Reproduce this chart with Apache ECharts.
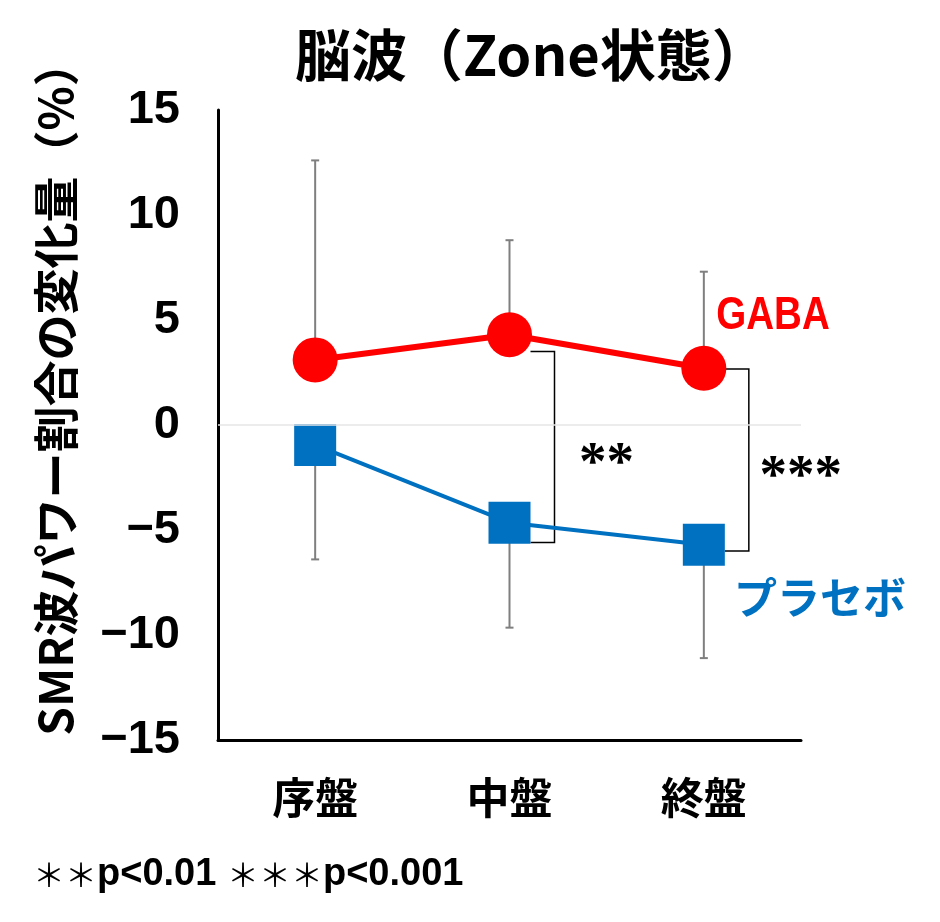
<!DOCTYPE html>
<html>
<head>
<meta charset="utf-8">
<script src="https://cdn.jsdelivr.net/npm/echarts@6/dist/echarts.min.js"></script>
<style>
html,body{margin:0;padding:0;background:#fff;}
#main{width:940px;height:922px;}
</style>
</head>
<body>
<div id="main"></div>
<script>
const categories = ['序盤', '中盤', '終盤'];
const gabaMean = [3.1, 4.3, 2.7];
const placeboMean = [-0.95, -4.65, -5.7];
const gabaUpper = [12.6, 8.8, 7.3];
const placeboLower = [-6.4, -9.65, -11.1];
const bracketCats = [1, 2];
const bracketTop = [3.5, 2.67];
const bracketBottom = [-5.6, -6.0];
const bracketStars = ['**', '***'];
const yMin = -15, yMax = 15, yStep = 5;

const chart = echarts.init(document.getElementById('main'));

function errorBarSeries(mean, bound) {
  return {
    type: 'custom',
    z: 1,
    silent: true,
    encode: { x: 0, y: [1, 2] },
    data: categories.map((c, i) => [i, mean[i], bound[i]]),
    renderItem: function (params, api) {
      const x = api.value(0);
      const p1 = api.coord([x, api.value(1)]);
      const p2 = api.coord([x, api.value(2)]);
      const cap = 4;
      const st = { stroke: '#7f7f7f', lineWidth: 2 };
      return {
        type: 'group',
        children: [
          { type: 'line', shape: { x1: p1[0], y1: p1[1], x2: p2[0], y2: p2[1] }, style: st },
          { type: 'line', shape: { x1: p2[0] - cap, y1: p2[1], x2: p2[0] + cap, y2: p2[1] }, style: st }
        ]
      };
    }
  };
}

const option = {
  animation: false,
  backgroundColor: '#fff',
  title: {
    text: '脳波（Zone状態）',
    left: 290,
    top: 22,
    textStyle: { fontFamily: 'Noto Sans CJK JP', fontWeight: 'bold', fontSize: 56, color: '#000' }
  },
  grid: { left: 218, top: 110, width: 583, height: 630, containLabel: false },
  xAxis: {
    type: 'category',
    data: categories,
    boundaryGap: true,
    axisLine: { show: true, onZero: false, lineStyle: { color: '#000', width: 3 } },
    axisTick: { show: false },
    splitLine: { show: false },
    axisLabel: { margin: 36, color: '#000', fontFamily: 'Noto Sans CJK JP', fontWeight: 'bold', fontSize: 43 }
  },
  yAxis: {
    type: 'value',
    min: yMin, max: yMax, interval: yStep,
    axisLine: { show: true, lineStyle: { color: '#000', width: 3 } },
    axisTick: { show: false },
    splitLine: { show: false },
    axisLabel: {
      margin: 38, color: '#000', fontFamily: 'Liberation Sans, Arial, sans-serif', fontWeight: 'bold', fontSize: 47,
      formatter: v => String(v).replace('-', '−')
    }
  },
  series: [
    errorBarSeries(gabaMean, gabaUpper),
    errorBarSeries(placeboMean, placeboLower),
    {
      name: 'GABA',
      type: 'line',
      z: 3,
      data: gabaMean,
      symbol: 'circle',
      symbolSize: 45,
      lineStyle: { color: '#ff0000', width: 6 },
      itemStyle: { color: '#ff0000' },
      markLine: {
        silent: true, symbol: 'none', label: { show: false },
        lineStyle: { color: '#e6e6e6', width: 1.5, type: 'solid' },
        data: [{ yAxis: 0 }]
      }
    },
    {
      name: 'プラセボ',
      type: 'line',
      z: 3,
      data: placeboMean,
      symbol: 'rect',
      symbolSize: 42,
      lineStyle: { color: '#0070c0', width: 4 },
      itemStyle: { color: '#0070c0' }
    },
    {
      type: 'custom',
      z: 2,
      silent: true,
      encode: { x: 0, y: [1, 2] },
      data: bracketCats.map((c, k) => [c, bracketTop[k], bracketBottom[k]]),
      renderItem: function (params, api) {
        const x = api.value(0);
        const pt = api.coord([x, api.value(1)]);
        const pb = api.coord([x, api.value(2)]);
        const x1 = pt[0] + 21, x2 = pt[0] + 45;
        const st = { stroke: '#000', lineWidth: 1.5, fill: null };
        return {
          type: 'group',
          children: [
            { type: 'polyline', shape: { points: [[x1, pt[1]], [x2, pt[1]], [x2, pb[1]], [x1, pb[1]]] }, style: st },
            {
              type: 'text',
              style: {
                text: bracketStars[params.dataIndex],
                x: x2 + 52, y: (pt[1] + pb[1]) / 2 + 18,
                align: 'center', verticalAlign: 'middle',
                font: 'bold 55px "Liberation Serif", "Times New Roman", serif',
                fill: '#000'
              }
            }
          ]
        };
      }
    }
  ],
  graphic: [
    {
      type: 'text',
      x: 56, y: 388,
      rotation: Math.PI / 2,
      style: {
        text: 'SMR波パワー割合の変化量（%）',
        align: 'center', verticalAlign: 'middle',
        font: 'bold 46px "Noto Sans CJK JP"',
        fill: '#000'
      }
    },
    {
      type: 'text',
      x: 773, y: 316,
      scaleX: 0.82,
      style: {
        text: 'GABA',
        align: 'center', verticalAlign: 'middle',
        font: 'bold 47px "Liberation Sans", sans-serif',
        fill: '#ff0000'
      }
    },
    {
      type: 'text',
      x: 820, y: 598,
      style: {
        text: 'プラセボ',
        align: 'center', verticalAlign: 'middle',
        font: 'bold 43px "Noto Sans CJK JP"',
        fill: '#0070c0'
      }
    },
    {
      type: 'text',
      x: 33, y: 875,
      style: {
        text: '{a|＊＊}{b|p<0.01 }{a|＊＊＊}{b|p<0.001}',
        verticalAlign: 'middle',
        rich: {
          a: { fontFamily: 'Noto Sans CJK JP', fontSize: 32, fill: '#000' },
          b: { fontFamily: 'Liberation Sans, Arial, sans-serif', fontWeight: 'bold', fontSize: 38, fill: '#000' }
        },
        fill: '#000'
      }
    }
  ]
};
chart.setOption(option);
</script>
</body>
</html>
